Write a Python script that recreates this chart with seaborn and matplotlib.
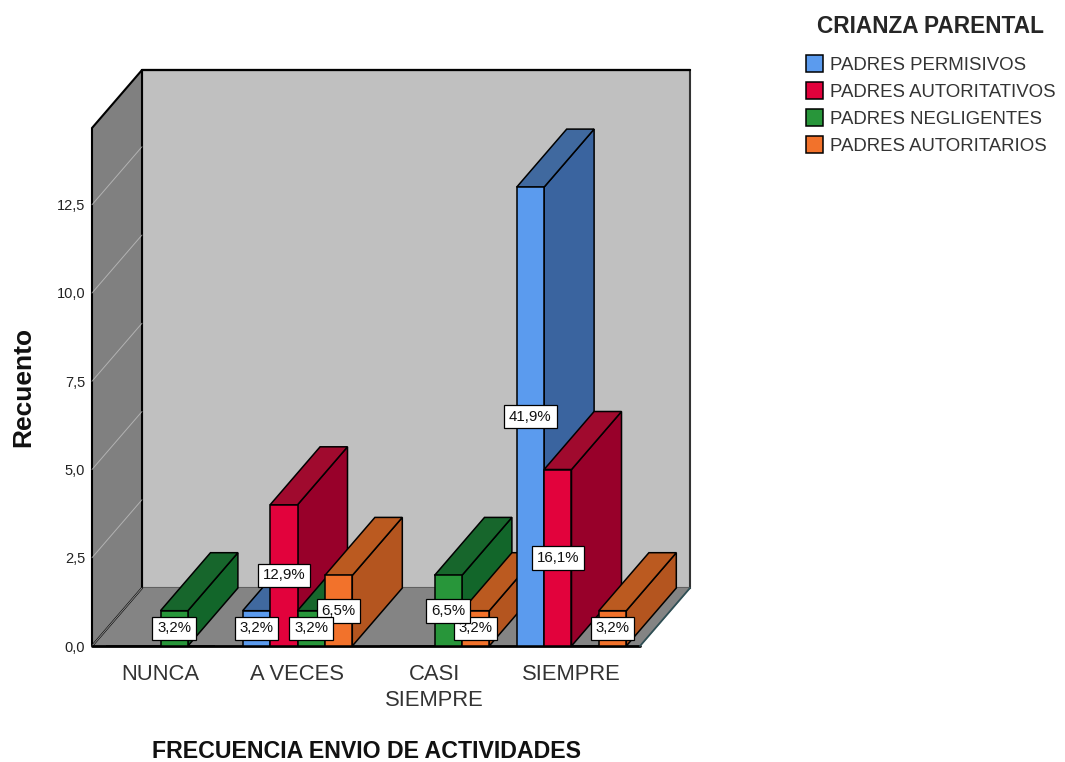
import pandas as pd
import matplotlib.pyplot as plt
import seaborn as sns
from matplotlib.patches import Polygon

# datos
CATEGORIAS = ['NUNCA', 'A VECES', 'CASI\nSIEMPRE', 'SIEMPRE']
SERIES = ['PADRES PERMISIVOS', 'PADRES AUTORITATIVOS', 'PADRES NEGLIGENTES', 'PADRES AUTORITARIOS']
PERMISIVOS = [0, 1, 0, 13]
AUTORITATIVOS = [0, 4, 0, 5]
NEGLIGENTES = [1, 1, 2, 0]
AUTORITARIOS = [0, 2, 1, 1]
TOTAL = 31
Y_TICKS = [0, 2.5, 5, 7.5, 10, 12.5]

COLOR_FRENTE = ['#5b9bee', '#e2023c', '#28963a', '#f2722b']
COLOR_LADO = ['#3a649f', '#98002a', '#12662a', '#b4551f']
COLOR_TECHO = ['#40699f', '#a00a2e', '#17662c', '#bb5a20']

# profundidad del efecto 3D en unidades de los ejes
PROF_X = 50 / 137
PROF_Y = 58 / 35.3
Y_MAX = 518 / 35.3
X_MIN, X_MAX = -0.5, 3.5

sns.set_style('white')
plt.rcParams['font.family'] = ['Liberation Sans', 'DejaVu Sans']

df = pd.DataFrame({
    'categoria': CATEGORIAS * 4,
    'serie': [s for s in SERIES for _ in CATEGORIAS],
    'recuento': PERMISIVOS + AUTORITATIVOS + NEGLIGENTES + AUTORITARIOS,
})

fig = plt.figure(figsize=(10.65, 7.62), dpi=100, facecolor='white')
ax = fig.add_axes([92 / 1065, 1 - 646 / 762, 548 / 1065, 518 / 762])
sns.barplot(data=df, x='categoria', y='recuento', hue='serie', order=CATEGORIAS, hue_order=SERIES,
            palette=COLOR_FRENTE, saturation=1, width=0.8, edgecolor='black', linewidth=1.1, ax=ax)


def cara(puntos, color, zorder, borde='black', lw=1.1):
    ax.add_patch(Polygon(puntos, closed=True, facecolor=color, edgecolor=borde, linewidth=lw,
                         zorder=zorder, clip_on=False))


# paredes y suelo
cara([(X_MIN + PROF_X, PROF_Y), (X_MAX + PROF_X, PROF_Y), (X_MAX + PROF_X, Y_MAX + PROF_Y),
      (X_MIN + PROF_X, Y_MAX + PROF_Y)], '#c0c0c0', 0.5, borde='#333333', lw=1.5)
cara([(X_MIN, 0), (X_MIN + PROF_X, PROF_Y), (X_MIN + PROF_X, Y_MAX + PROF_Y), (X_MIN, Y_MAX)],
     '#808080', 0.6, lw=1.5)
cara([(X_MIN, 0), (X_MAX, 0), (X_MAX + PROF_X, PROF_Y), (X_MIN + PROF_X, PROF_Y)],
     '#848484', 0.55, borde='#848484', lw=0.8)
ax.plot([X_MIN, X_MAX], [0, 0], color='black', lw=2, zorder=0.9, clip_on=False)
ax.plot([X_MAX, X_MAX + PROF_X], [0, PROF_Y], color='#2f4f55', lw=1.3, zorder=0.9, clip_on=False)
ax.plot([X_MIN + PROF_X, X_MAX + PROF_X], [Y_MAX + PROF_Y] * 2, color='black', lw=1.6, zorder=0.9, clip_on=False)
for t in Y_TICKS:
    ax.plot([X_MIN, X_MIN + PROF_X], [t, t + PROF_Y], color='#c8c8c8', lw=0.7, alpha=0.7, zorder=0.8, clip_on=False)

# barras con sus caras laterales, de izquierda a derecha
barras = []
for i, cont in enumerate(ax.containers):
    for bar in cont:
        if bar.get_height() > 0:
            barras.append((bar, i))
barras.sort(key=lambda b: b[0].get_x())

for n, (bar, i) in enumerate(barras):
    x0, ancho, alto = bar.get_x(), bar.get_width(), bar.get_height()
    x1 = x0 + ancho
    z = 2 + n
    cara([(x1, 0), (x1 + PROF_X, PROF_Y), (x1 + PROF_X, alto + PROF_Y), (x1, alto)], COLOR_LADO[i], z)
    cara([(x0, alto), (x1, alto), (x1 + PROF_X, alto + PROF_Y), (x0 + PROF_X, alto + PROF_Y)], COLOR_TECHO[i], z)
    bar.set_zorder(z + 0.5)
    texto = f'{alto / TOTAL * 100:.1f}%'.replace('.', ',')
    ax.text(x0 + ancho / 2, alto / 2, texto, ha='center', va='center', fontsize=10.8, color='#111111',
            zorder=100 - n, bbox=dict(boxstyle='square,pad=0.32', facecolor='white', edgecolor='black', linewidth=0.9))

ax.set_xlim(X_MIN, X_MAX)
ax.set_ylim(0, Y_MAX)
ax.set_yticks(Y_TICKS)
ax.set_yticklabels([f'{t:.1f}'.replace('.', ',') for t in Y_TICKS], fontsize=10.5, color='#222222')
ax.set_xticks(range(len(CATEGORIAS)))
ax.set_xticklabels(CATEGORIAS, fontsize=15.8, color='#333333', linespacing=1.3)
ax.tick_params(axis='x', length=0, pad=13)
ax.tick_params(axis='y', length=0, pad=5)
sns.despine(ax=ax, left=True, bottom=True)
ax.patch.set_visible(False)

ax.set_xlabel('')
ax.set_ylabel('')
fig.text(367 / 1065, 1 - 752 / 762, 'FRECUENCIA ENVIO DE ACTIVIDADES', ha='center', va='center',
         fontsize=16.7, fontweight='bold', color='#111111')
fig.text(23 / 1065, 1 - 387 / 762, 'Recuento', rotation=90, ha='center', va='center',
         fontsize=19, fontweight='bold', color='#111111')

sns.move_legend(ax, 'upper left', bbox_to_anchor=(802 / 1065, 1 - 11 / 762), bbox_transform=fig.transFigure,
                title='CRIANZA PARENTAL', frameon=False, fontsize=13.4, title_fontsize=16.3,
                handlelength=0.95, handleheight=1.0, handletextpad=0.35, labelspacing=0.44,
                borderpad=0.2, borderaxespad=0)
leg = ax.get_legend()
leg.get_title().set_fontweight('bold')
leg.set_zorder(200)
leg._legend_box.sep = 12.6
for txt in leg.get_texts():
    txt.set_color('#333333')

fig.savefig('out.png', dpi=100)
